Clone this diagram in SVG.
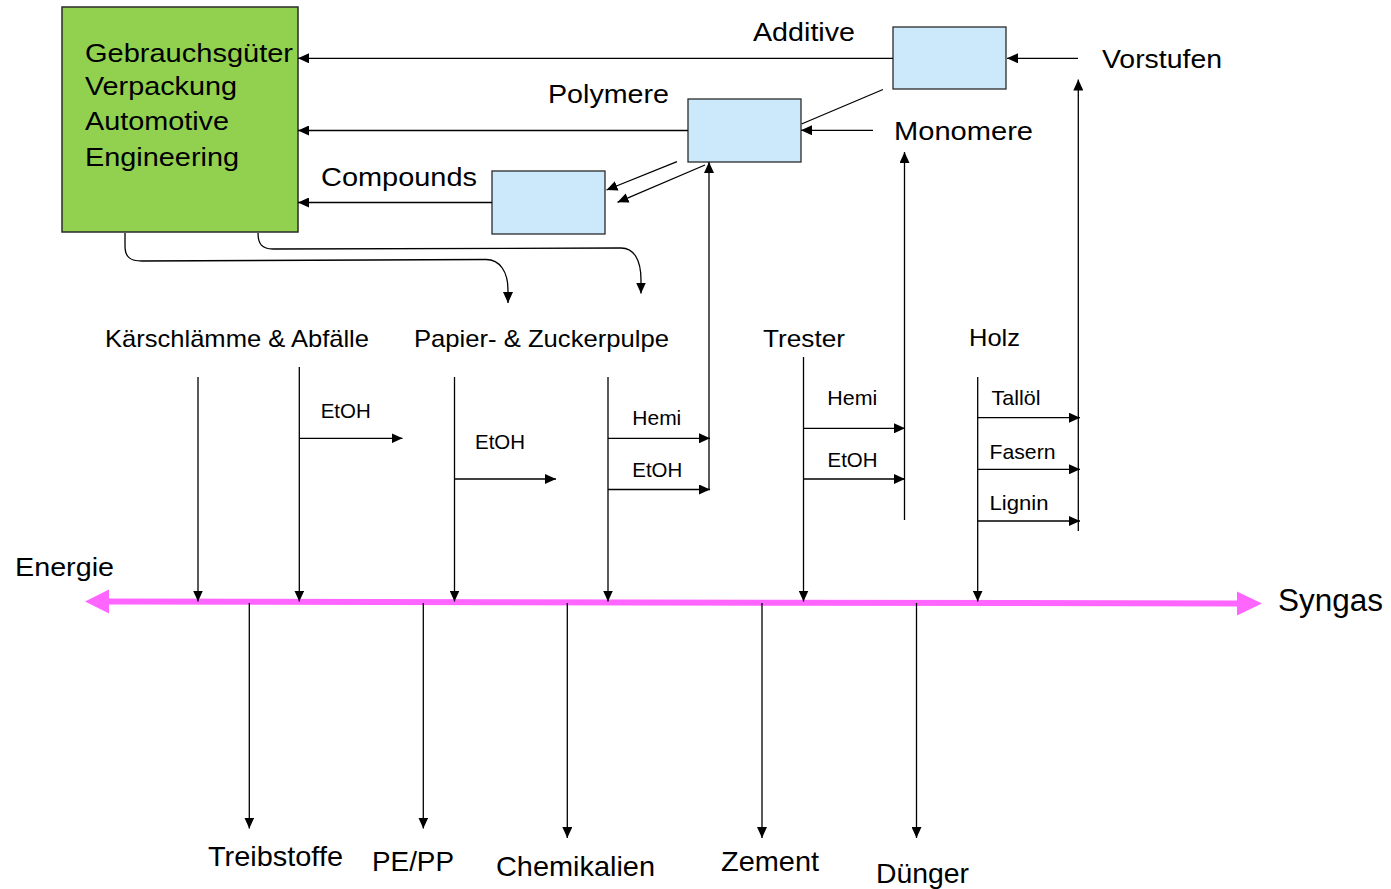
<svg xmlns="http://www.w3.org/2000/svg" width="1391" height="889" viewBox="0 0 1391 889">
  <style>
    text { font-family: "Liberation Sans", Arial, sans-serif; fill: #000; }
    .big { font-size: 25px; }
    .mid { font-size: 24px; }
    .out { font-size: 28px; }
    .small { font-size: 21px; }
    .ln { fill: none; stroke: #000; stroke-width: 1.3; }
    .arr { fill: none; stroke: #000; stroke-width: 1.3; marker-end: url(#head); }
    .usebox { fill: #92d050; stroke: #2a2a2a; stroke-width: 1.5; }
    .stage { fill: #cce9fb; stroke: #2a2a2a; stroke-width: 1.3; }
    .axis { fill: none; stroke: #ff66ff; stroke-width: 6; }
    .axishead { fill: #ff66ff; }
  </style>
  <defs>
    <marker id="head" markerUnits="userSpaceOnUse" markerWidth="11" markerHeight="10" viewBox="0 0 11 10" refX="11" refY="5" orient="auto">
      <path d="M0,0 L11,5 L0,10 Z" fill="#000"/>
    </marker>
  </defs>

  <rect width="1391" height="889" fill="#fff"/>

  <!-- end-use markets -->
  <g id="node-markets">
    <rect class="usebox" x="62" y="7" width="236" height="225"/>
    <text class="big" x="85" y="62" textLength="208" lengthAdjust="spacingAndGlyphs">Gebrauchsgüter</text>
    <text class="big" x="85" y="95" textLength="152" lengthAdjust="spacingAndGlyphs">Verpackung</text>
    <text class="big" x="85" y="130" textLength="144" lengthAdjust="spacingAndGlyphs">Automotive</text>
    <text class="big" x="85" y="165.5" textLength="154" lengthAdjust="spacingAndGlyphs">Engineering</text>
  </g>

  <!-- intermediate stages -->
  <g id="node-additive">
    <rect class="stage" x="893" y="27" width="113" height="62"/>
    <text class="big" x="753" y="41" textLength="102" lengthAdjust="spacingAndGlyphs">Additive</text>
  </g>
  <g id="node-polymere">
    <rect class="stage" x="688" y="99" width="113" height="63"/>
    <text class="big" x="548" y="103" textLength="121" lengthAdjust="spacingAndGlyphs">Polymere</text>
  </g>
  <g id="node-compounds">
    <rect class="stage" x="492" y="171" width="113" height="63"/>
    <text class="big" x="321" y="186" textLength="156" lengthAdjust="spacingAndGlyphs">Compounds</text>
  </g>
  <g id="node-vorstufen">
    <text class="big" x="1102" y="68" textLength="120" lengthAdjust="spacingAndGlyphs">Vorstufen</text>
  </g>
  <g id="node-monomere">
    <text class="big" x="894" y="139.5" textLength="139" lengthAdjust="spacingAndGlyphs">Monomere</text>
  </g>

  <!-- feedstocks -->
  <g id="node-kaerschlaemme">
    <text class="mid" x="105" y="347" textLength="264" lengthAdjust="spacingAndGlyphs">Kärschlämme &amp; Abfälle</text>
  </g>
  <g id="node-pulpe">
    <text class="mid" x="414" y="347" textLength="255" lengthAdjust="spacingAndGlyphs">Papier- &amp; Zuckerpulpe</text>
  </g>
  <g id="node-trester">
    <text class="mid" x="763" y="347" textLength="82" lengthAdjust="spacingAndGlyphs">Trester</text>
  </g>
  <g id="node-holz">
    <text class="mid" x="969" y="346" textLength="51" lengthAdjust="spacingAndGlyphs">Holz</text>
  </g>

  <!-- axis ends -->
  <g id="node-energie">
    <text x="15" y="576" font-size="26" textLength="99" lengthAdjust="spacingAndGlyphs">Energie</text>
  </g>
  <g id="node-syngas">
    <text x="1278" y="611" font-size="31" textLength="105" lengthAdjust="spacingAndGlyphs">Syngas</text>
  </g>

  <!-- syngas products -->
  <g id="node-treibstoffe">
    <text class="out" x="208" y="866" textLength="135" lengthAdjust="spacingAndGlyphs">Treibstoffe</text>
  </g>
  <g id="node-pepp">
    <text class="out" x="372" y="871" textLength="82" lengthAdjust="spacingAndGlyphs">PE/PP</text>
  </g>
  <g id="node-chemikalien">
    <text class="out" x="496" y="876" textLength="159" lengthAdjust="spacingAndGlyphs">Chemikalien</text>
  </g>
  <g id="node-zement">
    <text class="out" x="721" y="871" textLength="98" lengthAdjust="spacingAndGlyphs">Zement</text>
  </g>
  <g id="node-duenger">
    <text class="out" x="876" y="883" textLength="93" lengthAdjust="spacingAndGlyphs">Dünger</text>
  </g>

  <g id="connectors">
    <!-- energy / syngas axis -->
    <path class="axis" d="M105,601.5 L1240,603.5"/>
    <polygon class="axishead" points="85,601.5 109,589.5 109,613.5"/>
    <polygon class="axishead" points="1262,603.5 1237,591.5 1237,615.5"/>

    <!-- into the market box -->
    <path class="arr" d="M893,58.3 L298,58.3"/>
    <path class="arr" d="M688,130.5 L298,130.5"/>
    <path class="arr" d="M492,202.5 L298,202.5"/>

    <!-- feeds into the stage boxes -->
    <path class="arr" d="M1078,58.3 L1007,58.3"/>
    <path class="arr" d="M873,130.3 L801,130.3"/>
    <path class="ln" d="M883,89.5 L801.5,124"/>
    <path class="arr" d="M677,161.7 L606.5,190"/>
    <path class="arr" d="M705,165 L617.5,202.3"/>

    <!-- recycling loops back to the pulp streams -->
    <path class="arr" d="M125,233 L125,246 C125,257 130,261 142,261 L486,259.5 C500,259.5 508,272 508,290 L508,303"/>
    <path class="arr" d="M258,233 C258,244 262,249 273,249 L621,248 C634,248 641,260 641,280 L641,293.5"/>

    <!-- feedstocks down to the axis -->
    <path class="arr" d="M198,377 L198,601.5"/>
    <path class="arr" d="M299.3,367 L299.3,601.5"/>
    <path class="arr" d="M454.5,377 L454.5,601.5"/>
    <path class="arr" d="M608,377 L608,601.5"/>
    <path class="arr" d="M803.5,357 L803.5,601.5"/>
    <path class="arr" d="M977.7,377 L977.7,601.5"/>

    <!-- side streams -->
    <path class="arr" d="M299.3,438.3 L402.5,438.3"/>
    <path class="arr" d="M454.5,479 L556,479"/>
    <path class="arr" d="M608,438.3 L710,438.3"/>
    <path class="arr" d="M608,489.5 L710,489.5"/>
    <path class="arr" d="M803.5,428.3 L905,428.3"/>
    <path class="arr" d="M803.5,479 L905,479"/>
    <path class="arr" d="M977.7,417.7 L1080,417.7"/>
    <path class="arr" d="M977.7,469.3 L1080,469.3"/>
    <path class="arr" d="M977.7,521 L1080,521"/>

    <!-- collectors up to the stages -->
    <path class="arr" d="M709,489.5 L709,162"/>
    <path class="arr" d="M904.5,520 L904.5,152"/>
    <path class="arr" d="M1078.3,531 L1078.3,79.5"/>

    <!-- axis down to the products -->
    <path class="arr" d="M249.3,603 L249.3,828.5"/>
    <path class="arr" d="M423.3,603 L423.3,828.5"/>
    <path class="arr" d="M567.3,603 L567.3,838"/>
    <path class="arr" d="M762,603 L762,838"/>
    <path class="arr" d="M916.5,603 L916.5,838"/>

    <!-- side-stream labels -->
    <text class="small" x="320.7" y="418.3" textLength="50" lengthAdjust="spacingAndGlyphs">EtOH</text>
    <text class="small" x="475" y="449" textLength="50" lengthAdjust="spacingAndGlyphs">EtOH</text>
    <text class="small" x="632.3" y="425" textLength="49" lengthAdjust="spacingAndGlyphs">Hemi</text>
    <text class="small" x="632.3" y="476.7" textLength="50" lengthAdjust="spacingAndGlyphs">EtOH</text>
    <text class="small" x="827.3" y="405" textLength="50" lengthAdjust="spacingAndGlyphs">Hemi</text>
    <text class="small" x="827.5" y="466.7" textLength="50" lengthAdjust="spacingAndGlyphs">EtOH</text>
    <text class="small" x="991.5" y="404.5" textLength="49" lengthAdjust="spacingAndGlyphs">Tallöl</text>
    <text class="small" x="989.5" y="458.5" textLength="66" lengthAdjust="spacingAndGlyphs">Fasern</text>
    <text class="small" x="989.5" y="510" textLength="59" lengthAdjust="spacingAndGlyphs">Lignin</text>
  </g>
</svg>
